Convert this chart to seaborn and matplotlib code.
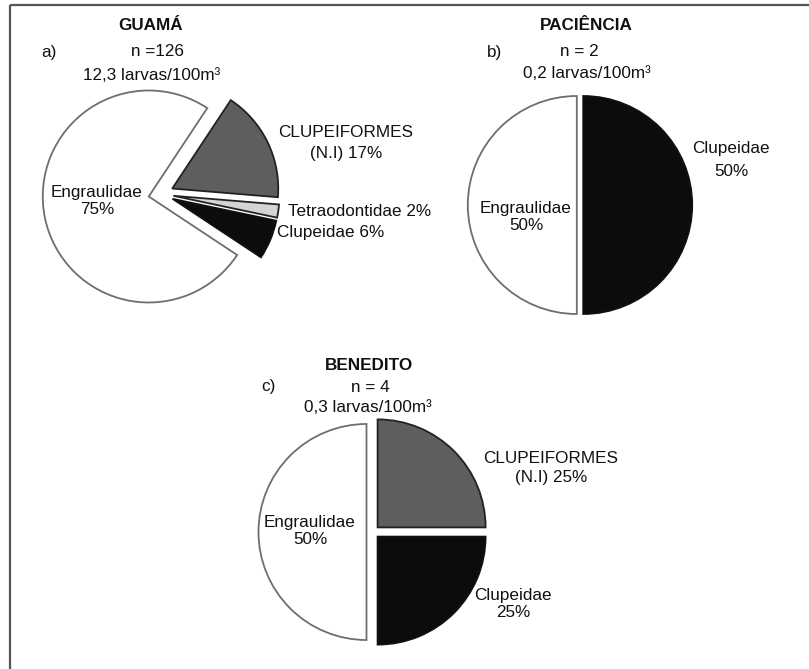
import numpy as np
import matplotlib
matplotlib.use("Agg")
import matplotlib.pyplot as plt
import seaborn as sns

sns.set_theme(style="white")
plt.rcParams['font.family'] = ['Liberation Sans', 'DejaVu Sans']

# data (percent of larvae per family)
guama_names = ["Engraulidae", "Clupeidae", "Tetraodontidae", "CLUPEIFORMES (N.I)"]
guama_pct = [75, 6, 2, 17]
paciencia_names = ["Engraulidae", "Clupeidae"]
paciencia_pct = [50, 50]
benedito_names = ["Engraulidae", "Clupeidae", "CLUPEIFORMES (N.I)"]
benedito_pct = [50, 25, 25]

sites = ["GUAMÁ", "PACIÊNCIA", "BENEDITO"]
panel_tags = ["a)", "b)", "c)"]
n_larvae = ["n =126", "n = 2", "n = 4"]
density = ["12,3 larvas/100m³", "0,2 larvas/100m³", "0,3 larvas/100m³"]

# shades per family
fill = {"Engraulidae": "#ffffff", "Clupeidae": "#0c0c0c",
        "Tetraodontidae": "#d4d4d4", "CLUPEIFORMES (N.I)": "#5e5e5e"}
edge = {"Engraulidae": "#6e6e6e", "Clupeidae": "#111111",
        "Tetraodontidae": "#222222", "CLUPEIFORMES (N.I)": "#222222"}

W, H = 809, 669
FS = 12.3
fig = plt.figure(figsize=(W / 100, H / 100), dpi=100)
ax = fig.add_axes([0, 0, 1, 1])


def Y(y):
    # image rows -> axis coords (y up)
    return H - y


def draw_pie(names, pct, cx, cy, r, start, shift):
    # matplotlib's explode is in data units, here pixels
    wedges, _ = ax.pie(pct, center=(cx, Y(cy)), radius=r, startangle=start,
                       counterclock=True, explode=[shift] * len(pct),
                       colors=[fill[n] for n in names], frame=True,
                       wedgeprops=dict(linewidth=1.3))
    for w, n in zip(wedges, names):
        w.set_edgecolor(edge[n])


draw_pie(guama_names, guama_pct, 161, 194, 106, 56.5, 12.5)
draw_pie(paciencia_names, paciencia_pct, 580, 205, 109, 90, 3.2)
draw_pie(benedito_names, benedito_pct, 373, 532, 108, 90, 6.5)

# headers
heads = [(151, 26, 49, 52), (586, 26, 495, 52), (369, 365, 268, 387)]
n_pos = [(158, 52), (579, 52), (370, 387)]
d_pos = [(152, 75), (587, 74), (368, 407)]
for i in range(3):
    tx, ty, px, py = heads[i]
    ax.text(tx, Y(ty), sites[i], ha="center", va="center", fontsize=FS,
            fontweight="bold", color="#111111")
    ax.text(px, Y(py), panel_tags[i], ha="center", va="center",
            fontsize=FS, color="#111111")
    ax.text(n_pos[i][0], Y(n_pos[i][1]), n_larvae[i], ha="center",
            va="center", fontsize=FS, color="#111111")
    ax.text(d_pos[i][0], Y(d_pos[i][1]), density[i], ha="center",
            va="center", fontsize=FS, color="#111111")


def lab(x, y, s, ha="center", ls=1.0):
    ax.text(x, Y(y), s, ha=ha, va="center", fontsize=FS, color="#111111",
            linespacing=ls)


# slice labels (a)
g = dict(zip(guama_names, guama_pct))
lab(97, 201, f"Engraulidae\n{g['Engraulidae']}%", ls=1.16)
lab(346, 143, f"CLUPEIFORMES\n(N.I) {g['CLUPEIFORMES (N.I)']}%", ls=1.48)
lab(288, 211, f"Tetraodontidae {g['Tetraodontidae']}%", ha="left")
lab(277, 233, f"Clupeidae {g['Clupeidae']}%", ha="left")

# slice labels (b)
p = dict(zip(paciencia_names, paciencia_pct))
lab(731, 160, f"Clupeidae\n{p['Clupeidae']}%", ls=1.6)
lab(526, 217, f"Engraulidae\n{p['Engraulidae']}%", ls=1.23)

# slice labels (c)
b = dict(zip(benedito_names, benedito_pct))
lab(551, 468, f"CLUPEIFORMES\n(N.I) {b['CLUPEIFORMES (N.I)']}%", ls=1.35)
lab(310, 531, f"Engraulidae\n{b['Engraulidae']}%", ls=1.1)
lab(513, 604, f"Clupeidae\n{b['Clupeidae']}%", ls=1.16)

# cropped frame: top and left edges only
ax.plot([10, W], [Y(5), Y(5)], color="#555555", lw=1.6, solid_capstyle="butt")
ax.plot([10, 10], [Y(5), 0], color="#555555", lw=1.6, solid_capstyle="butt")

ax.set_xlim(0, W)
ax.set_ylim(0, H)
ax.set_aspect("auto")
ax.axis("off")

fig.savefig("out.png", dpi=100, facecolor="white")
